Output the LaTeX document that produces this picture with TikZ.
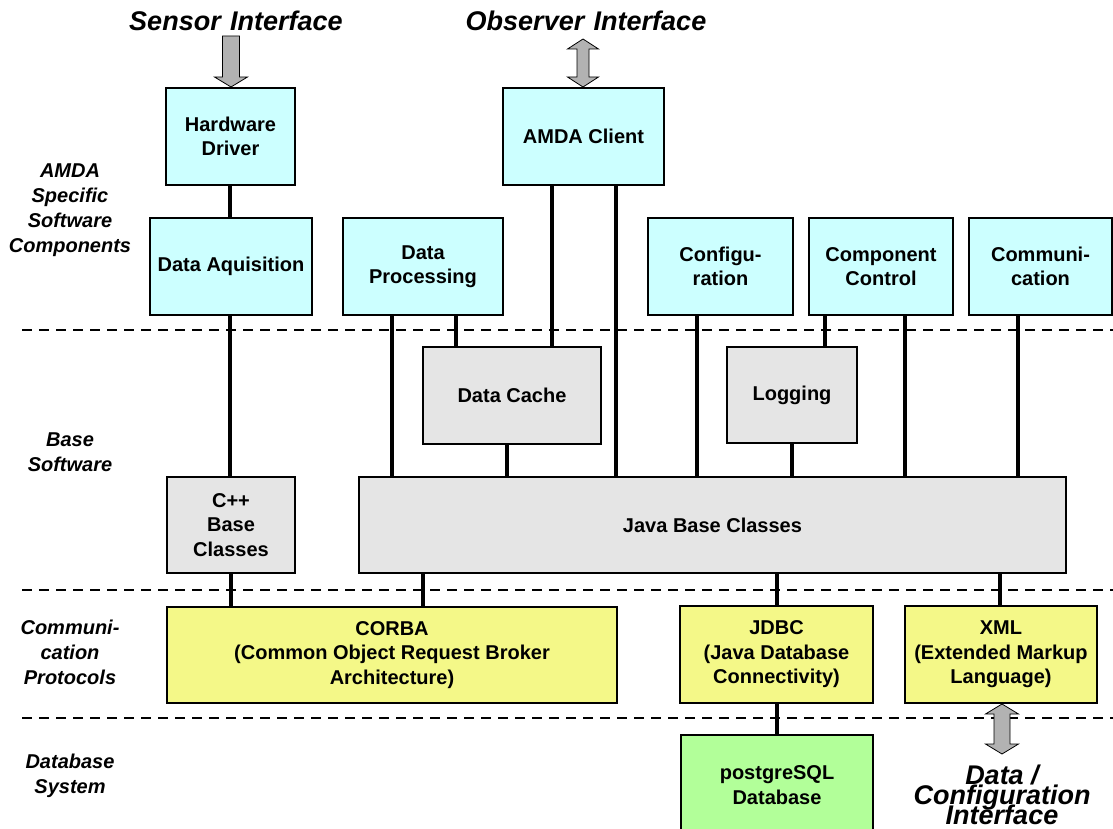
\documentclass[tikz,border=0pt]{standalone}
\usepackage{fontspec}
\setmainfont{Liberation Sans}
\usetikzlibrary{calc}

\definecolor{compcyan}{RGB}{204,255,255}
\definecolor{basegray}{RGB}{229,229,229}
\definecolor{protoyellow}{RGB}{244,248,136}
\definecolor{dbgreen}{RGB}{178,255,153}
\definecolor{arrowgray}{RGB}{178,178,178}

% large italic captions with tightly packed lines
\newcommand\ifacefont{\fontsize{27}{20}\selectfont\bfseries\itshape\setlength{\lineskiplimit}{-30pt}}

\begin{document}
\begin{tikzpicture}[x=1pt,y=-1pt,
  box/.style={draw=black, line width=2pt, rectangle, align=center, inner sep=2pt,
    font=\fontsize{20}{24.5}\selectfont\bfseries},
  appbox/.style={box, fill=compcyan},
  basebox/.style={box, fill=basegray},
  protobox/.style={box, fill=protoyellow},
  dbbox/.style={box, fill=dbgreen},
  link/.style={line width=4.5pt},
  layerline/.style={line width=2pt, dash pattern=on 10pt off 7pt},
  layerlabel/.style={align=center, font=\fontsize{20}{25}\selectfont\bfseries\itshape},
  ifacelabel/.style={align=center, font=\ifacefont},
  blockarrow/.style={fill=arrowgray, draw=black, line width=0.8pt, line join=miter}
]
\useasboundingbox (0,0) rectangle (1113,829);

% layer separators
\draw[layerline] (22,330) -- (1113,330);
\draw[layerline] (22,590) -- (1113,590);
\draw[layerline] (22,718) -- (1113,718);

% layer labels
\node[layerlabel] (lblamda) at (70,210) {AMDA\\Specific\\Software\\Components};
\node[layerlabel] (lblbase) at (70,452) {Base\\Software};
\node[layerlabel] (lblcomm) at (70,652) {Communi-\\cation\\Protocols};
\node[layerlabel] (lbldb) at (70,776) {Database\\System};

% interface labels
\node[ifacelabel] (sensorif) at (236,21) {Sensor\hspace{0.35em}Interface};
\node[ifacelabel] (observerif) at (586,21) {Observer\hspace{0.35em}Interface};
\node[ifacelabel] (dataif) at (1002,795) {Data /\\Configuration\\Interface};

% AMDA specific components
\node[appbox, minimum width=129pt, minimum height=97pt] (hw) at (230.5,136.5) {Hardware\\Driver};
\node[appbox, minimum width=161pt, minimum height=97pt] (amda) at (583.5,136.5) {AMDA Client};
\node[appbox, minimum width=162pt, minimum height=97pt] (daq) at (231,266.5) {Data Aquisition};
\node[appbox, minimum width=160pt, minimum height=97pt] (dproc) at (423,266.5) {Data\\Processing};
\node[appbox, minimum width=145pt, minimum height=97pt] (config) at (720.5,266.5) {Configu-\\ration};
\node[appbox, minimum width=144pt, minimum height=97pt] (cctrl) at (881,266.5) {Component\\Control};
\node[appbox, minimum width=143pt, minimum height=97pt] (comm) at (1040.5,266.5) {Communi-\\cation};

% base software
\node[basebox, minimum width=178pt, minimum height=97pt] (dcache) at (512,395.5) {Data Cache};
\node[basebox, minimum width=130pt, minimum height=96pt] (logging) at (792,395) {Logging};
\node[basebox, minimum width=128pt, minimum height=96pt] (cpp) at (231,525) {C++\\Base\\Classes};
\node[basebox, minimum width=707pt, minimum height=96pt] (java) at (712.5,525) {Java Base Classes};

% communication protocols
\node[protobox, minimum width=450pt, minimum height=96pt] (corba) at (392,655) {CORBA\\(Common Object Request Broker\\Architecture)};
\node[protobox, minimum width=193pt, minimum height=97pt] (jdbc) at (776.5,654.5) {JDBC\\(Java Database\\Connectivity)};
\node[protobox, minimum width=192pt, minimum height=97pt] (xml) at (1001,654.5) {XML\\(Extended Markup\\Language)};

% database system
\node[dbbox, minimum width=192pt, minimum height=100pt] (pg) at (777,785) {postgreSQL\\Database};

% connections between components
\draw[link] (hw.south -| 230,0) -- (daq.north -| 230,0);
\draw[link] (daq.south -| 230,0) -- (cpp.north -| 230,0);
\draw[link] (dproc.south -| 392,0) -- (java.north -| 392,0);
\draw[link] (dproc.south -| 456,0) -- (dcache.north -| 456,0);
\draw[link] (amda.south -| 552,0) -- (dcache.north -| 552,0);
\draw[link] (amda.south -| 616,0) -- (java.north -| 616,0);
\draw[link] (config.south -| 697,0) -- (java.north -| 697,0);
\draw[link] (cctrl.south -| 825,0) -- (logging.north -| 825,0);
\draw[link] (cctrl.south -| 905,0) -- (java.north -| 905,0);
\draw[link] (comm.south -| 1018,0) -- (java.north -| 1018,0);
\draw[link] (dcache.south -| 507,0) -- (java.north -| 507,0);
\draw[link] (logging.south -| 792,0) -- (java.north -| 792,0);
\draw[link] (cpp.south -| 231,0) -- (corba.north -| 231,0);
\draw[link] (java.south -| 423,0) -- (corba.north -| 423,0);
\draw[link] (java.south -| 777,0) -- (jdbc.north -| 777,0);
\draw[link] (java.south -| 1000,0) -- (xml.north -| 1000,0);
\draw[link] (jdbc.south -| 777,0) -- (pg.north -| 777,0);

% interface block arrows
\draw[blockarrow] (hw.north -| 231,0) -- ++(16.5,-10) -- ++(-8,0) -- ++(0,-41)
  -- ++(-17,0) -- ++(0,41) -- ++(-8,0) -- cycle;
\draw[blockarrow] (amda.north -| 583,0) -- ++(15.5,-10) -- ++(-9.5,0) -- ++(0,-28)
  -- ++(9.5,0) -- ++(-15.5,-10) -- ++(-15.5,10) -- ++(9.5,0) -- ++(0,28)
  -- ++(-9.5,0) -- cycle;
\draw[blockarrow] (xml.south -| 1002,0) -- ++(16.5,10) -- ++(-8.5,0) -- ++(0,30)
  -- ++(8.5,0) -- ++(-16.5,10) -- ++(-16.5,-10) -- ++(8.5,0) -- ++(0,-30)
  -- ++(-8.5,0) -- cycle;
\end{tikzpicture}
\end{document}
